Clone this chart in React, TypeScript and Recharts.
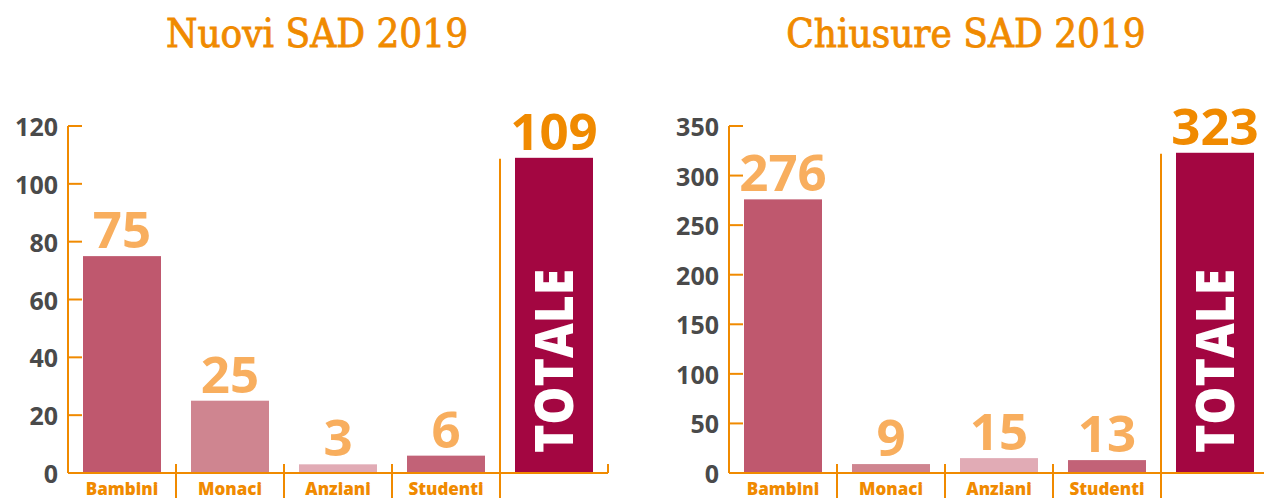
import React from "react";
import { BarChart, Bar, XAxis, YAxis, LabelList, Cell } from "recharts";

const categories = ["Bambini", "Monaci", "Anziani", "Studenti", "TOTALE"];
const nuoviValues = [75, 25, 3, 6, 109];
const chiusureValues = [276, 9, 15, 13, 323];
const nuoviTicks = [0, 20, 40, 60, 80, 100, 120];
const chiusureTicks = [0, 50, 100, 150, 200, 250, 300, 350];
const barColors = ["#BF586E", "#CF8590", "#E1ABB5", "#C26277", "#A30641"];

const ORANGE = "#F08A00";
const LIGHT_ORANGE = "#F8AE5E";
const NUM_FONT = "'Open Sans', 'DejaVu Sans', sans-serif";

const YTick = (props: any) => {
  const { x, y, payload } = props;
  return (
    <g>
      <line x1={x + 10} x2={x + 24} y1={y} y2={y} stroke={ORANGE} strokeWidth={2} />
      <text
        x={x}
        y={y}
        textAnchor="end"
        dominantBaseline="central"
        fill="#4A4A4A"
        fontFamily={NUM_FONT}
        fontWeight={700}
        fontSize={25}
      >
        {payload.value}
      </text>
    </g>
  );
};

const XTick = (props: any) => {
  const { x, y, payload, index } = props;
  if (index === categories.length - 1) return <g />;
  return (
    <text
      x={x}
      y={y + 14}
      textAnchor="middle"
      fill={ORANGE}
      fontFamily={NUM_FONT}
      fontWeight={800}
      fontSize={17}
    >
      {payload.value}
    </text>
  );
};

// bar + the orange separators that sit between categories
const BarShape = (props: any) => {
  const { x, y, width, height, fill, index } = props;
  const base = y + height;
  const isTotal = index === categories.length - 1;
  return (
    <g>
      <rect x={x} y={y} width={width} height={height} fill={fill} />
      {index > 0 && !isTotal && (
        <line x1={x - 15} x2={x - 15} y1={base - 9} y2={base + 30} stroke={ORANGE} strokeWidth={2} />
      )}
      {isTotal && (
        <>
          <line x1={x - 15} x2={x - 15} y1={y + 1} y2={base + 30} stroke={ORANGE} strokeWidth={2} />
          <line x1={x + width + 15} x2={x + width + 15} y1={base - 9} y2={base} stroke={ORANGE} strokeWidth={2} />
          <text
            transform={`translate(${x + width / 2 + 19}, ${base - 20}) rotate(-90)`}
            fill="#fff"
            fontFamily={NUM_FONT}
            fontWeight={800}
            fontSize={53}
            textLength={184}
            lengthAdjust="spacingAndGlyphs"
          >
            TOTALE
          </text>
        </>
      )}
    </g>
  );
};

const ValueLabel = (props: any) => {
  const { x, y, width, value, index } = props;
  const isTotal = index === categories.length - 1;
  return (
    <text
      x={x + width / 2}
      y={y - 8}
      textAnchor="middle"
      fill={isTotal ? ORANGE : LIGHT_ORANGE}
      fontFamily={NUM_FONT}
      fontWeight={700}
      fontSize={51}
    >
      {value}
    </text>
  );
};

const SadChart = ({ title, values, ticks, left, width, yWidth, rightMargin, titleCenter }: any) => {
  const data = categories.map((name, i) => ({ name, value: values[i] }));
  return (
    <>
      <div
        style={{
          position: "absolute",
          left: titleCenter - 250,
          width: 500,
          top: 13,
          textAlign: "center",
          fontFamily: "'DejaVu Serif Condensed', 'DejaVu Serif', serif",
          fontStretch: "condensed",
          fontSize: 40,
          lineHeight: "40px",
          color: ORANGE,
          WebkitTextStroke: `0.8px ${ORANGE}`,
        }}
      >
        {title}
      </div>
      <div style={{ position: "absolute", left, top: 0 }}>
        <BarChart
          width={width}
          height={498}
          data={data}
          margin={{ top: 126, right: rightMargin, left: 0, bottom: 0 }}
          barCategoryGap={15}
        >
          <XAxis
            dataKey="name"
            height={25}
            axisLine={{ stroke: ORANGE, strokeWidth: 2 }}
            tickLine={false}
            tick={<XTick />}
            interval={0}
          />
          <YAxis
            width={yWidth}
            domain={[0, ticks[ticks.length - 1]]}
            ticks={ticks}
            interval={0}
            axisLine={{ stroke: ORANGE, strokeWidth: 2 }}
            tickLine={false}
            tickSize={0}
            tickMargin={10}
            tick={<YTick />}
          />
          <Bar dataKey="value" shape={<BarShape />} isAnimationActive={false}>
            {data.map((d, i) => (
              <Cell key={d.name} fill={barColors[i]} />
            ))}
            <LabelList dataKey="value" content={<ValueLabel />} />
          </Bar>
        </BarChart>
      </div>
    </>
  );
};

export default function App() {
  return (
    <div
      style={{
        position: "absolute",
        left: 0,
        top: 0,
        width: 1264,
        height: 498,
        overflow: "hidden",
        background: "#fff",
      }}
    >
      <SadChart
        title="Nuovi SAD 2019"
        values={nuoviValues}
        ticks={nuoviTicks}
        left={0}
        width={632}
        yWidth={68}
        rightMargin={24}
        titleCenter={317}
      />
      <SadChart
        title="Chiusure SAD 2019"
        values={chiusureValues}
        ticks={chiusureTicks}
        left={632}
        width={637}
        yWidth={97}
        rightMargin={0}
        titleCenter={966}
      />
    </div>
  );
}
